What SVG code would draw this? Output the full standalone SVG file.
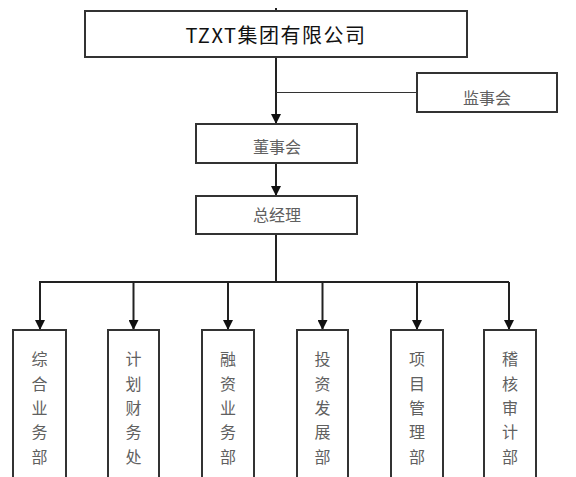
<svg xmlns="http://www.w3.org/2000/svg" width="576" height="477" viewBox="0 0 576 477">
<defs>
<style>
.box{fill:#fff;stroke:#333;stroke-width:2}
.t{font-family:"Noto Sans CJK SC","Liberation Sans",sans-serif;fill:#606060;font-size:16px;text-anchor:middle}
.title{font-family:"Noto Sans CJK SC","Liberation Sans",sans-serif;fill:#111;font-size:20px;text-anchor:middle;letter-spacing:1.5px}
.v{font-family:"Noto Sans CJK SC","Liberation Sans",sans-serif;fill:#606060;font-size:16px;text-anchor:middle}
.ln{stroke:#222;stroke-width:2;fill:none}
.thin{stroke:#333;stroke-width:1;fill:none}
</style>
<marker id="ah" markerWidth="10" markerHeight="10" viewBox="0 0 10 10" refX="10" refY="5" orient="auto" markerUnits="userSpaceOnUse">
<path d="M0,0 L10,5 L0,10 Z" fill="#111"/>
</marker>
</defs>
<rect width="576" height="477" fill="#fff"/>
<g id="connectors">
<line class="ln" x1="276" y1="8" x2="276" y2="11"/>
<line class="ln" x1="276" y1="57" x2="276" y2="124" marker-end="url(#ah)"/>
<line class="thin" x1="276" y1="92.5" x2="417" y2="92.5"/>
<line class="ln" x1="276" y1="163" x2="276" y2="196" marker-end="url(#ah)"/>
<line class="ln" x1="276" y1="234" x2="276" y2="282"/>
<polyline class="ln" points="40,330 40,282 509,282"/>
<line class="ln" x1="40" y1="282" x2="40" y2="330" marker-end="url(#ah)"/>
<line class="ln" x1="133.5" y1="282" x2="133.5" y2="330" marker-end="url(#ah)"/>
<line class="ln" x1="228" y1="282" x2="228" y2="330" marker-end="url(#ah)"/>
<line class="ln" x1="322.5" y1="282" x2="322.5" y2="330" marker-end="url(#ah)"/>
<line class="ln" x1="417" y1="282" x2="417" y2="330" marker-end="url(#ah)"/>
<line class="ln" x1="509" y1="282" x2="509" y2="330" marker-end="url(#ah)"/>
</g>
<g id="company">
<rect class="box" x="85" y="11" width="382" height="46"/>
<text class="title" x="276" y="43">TZXT集团有限公司</text>
</g>
<g id="supervisors">
<rect class="box" x="417" y="73" width="140" height="39"/>
<text class="t" x="487" y="104">监事会</text>
</g>
<g id="board">
<rect class="box" x="196" y="124" width="161" height="39"/>
<text class="t" x="277" y="153">董事会</text>
</g>
<g id="gm">
<rect class="box" x="196" y="196" width="161" height="38"/>
<text class="t" x="277" y="221">总经理</text>
</g>
<g id="dept1">
<rect class="box" x="13" y="330" width="53" height="160"/>
<text class="v"><tspan x="39.5" y="365">综</tspan><tspan x="39.5" y="389.5">合</tspan><tspan x="39.5" y="414">业</tspan><tspan x="39.5" y="438">务</tspan><tspan x="39.5" y="463">部</tspan></text>
</g>
<g id="dept2">
<rect class="box" x="108" y="330" width="51" height="160"/>
<text class="v"><tspan x="133.5" y="365">计</tspan><tspan x="133.5" y="389.5">划</tspan><tspan x="133.5" y="414">财</tspan><tspan x="133.5" y="438">务</tspan><tspan x="133.5" y="463">处</tspan></text>
</g>
<g id="dept3">
<rect class="box" x="202" y="330" width="52" height="160"/>
<text class="v"><tspan x="228" y="365">融</tspan><tspan x="228" y="389.5">资</tspan><tspan x="228" y="414">业</tspan><tspan x="228" y="438">务</tspan><tspan x="228" y="463">部</tspan></text>
</g>
<g id="dept4">
<rect class="box" x="297" y="330" width="51" height="160"/>
<text class="v"><tspan x="322.5" y="365">投</tspan><tspan x="322.5" y="389.5">资</tspan><tspan x="322.5" y="414">发</tspan><tspan x="322.5" y="438">展</tspan><tspan x="322.5" y="463">部</tspan></text>
</g>
<g id="dept5">
<rect class="box" x="391" y="330" width="52" height="160"/>
<text class="v"><tspan x="417" y="365">项</tspan><tspan x="417" y="389.5">目</tspan><tspan x="417" y="414">管</tspan><tspan x="417" y="438">理</tspan><tspan x="417" y="463">部</tspan></text>
</g>
<g id="dept6">
<rect class="box" x="484" y="330" width="52" height="160"/>
<text class="v"><tspan x="510" y="365">稽</tspan><tspan x="510" y="389.5">核</tspan><tspan x="510" y="414">审</tspan><tspan x="510" y="438">计</tspan><tspan x="510" y="463">部</tspan></text>
</g>
</svg>
